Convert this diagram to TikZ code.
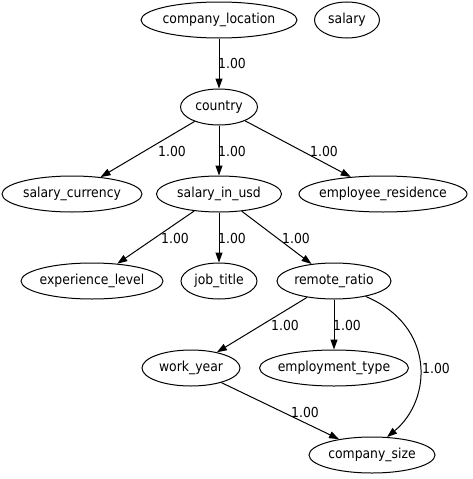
\documentclass[tikz,border=0pt]{standalone}
\usepackage{fontspec}
\setmainfont{DejaVu Sans Condensed}
\usetikzlibrary{arrows.meta,shapes.geometric}
\tikzset{
  var/.style={draw,ellipse,line width=1pt,inner xsep=-8pt,inner ysep=0pt,minimum height=36pt,font=\fontsize{13.8}{15}\selectfont},
  wt/.style={inner sep=0pt,font=\fontsize{13.8}{15}\selectfont},
  dep/.style={line width=1pt,-{Triangle[length=10pt,width=7pt]}}
}

\begin{document}
\begin{tikzpicture}[x=1pt,y=-1pt]
\useasboundingbox (0,0) rectangle (472,479);
% variables, one rank per row
\node[var,minimum width=156pt] (company_location) at (219,20) {company\_location};
\node[var,minimum width=65pt] (salary) at (347,20) {salary};
\node[var,minimum width=77pt] (country) at (219,107) {country};
\node[var,minimum width=140pt] (salary_currency) at (72,194) {salary\_currency};
\node[var,minimum width=125pt] (salary_in_usd) at (219,194) {salary\_in\_usd};
\node[var,minimum width=168pt] (employee_residence) at (383,194) {employee\_residence};
\node[var,minimum width=142pt] (experience_level) at (92,281) {experience\_level};
\node[var,minimum width=76pt] (job_title) at (219,281) {job\_title};
\node[var,minimum width=114pt] (remote_ratio) at (334,281) {remote\_ratio};
\node[var,minimum width=98pt] (work_year) at (191,368) {work\_year};
\node[var,minimum width=149pt] (employment_type) at (334,368) {employment\_type};
\node[var,minimum width=126pt] (company_size) at (372,455) {company\_size};
% straight dependencies with their weights
\foreach \a/\b/\lx/\ly [count=\i] in {company_location/country/232/63,country/salary_currency/172/151,country/salary_in_usd/232/151,country/employee_residence/324/151,salary_in_usd/experience_level/175/238,salary_in_usd/job_title/232/238,salary_in_usd/remote_ratio/296/238,remote_ratio/work_year/285/325,remote_ratio/employment_type/347/325,work_year/company_size/305/412}{\draw[dep] (\a)--(\b);\node[wt] (w\i) at (\lx,\ly) {1.00};}
% the bent one
\draw[dep] (remote_ratio.-26) .. controls (436,326) and (432,400) .. (company_size.50);
\node[wt] (w11) at (436,368) {1.00};
\end{tikzpicture}
\end{document}
